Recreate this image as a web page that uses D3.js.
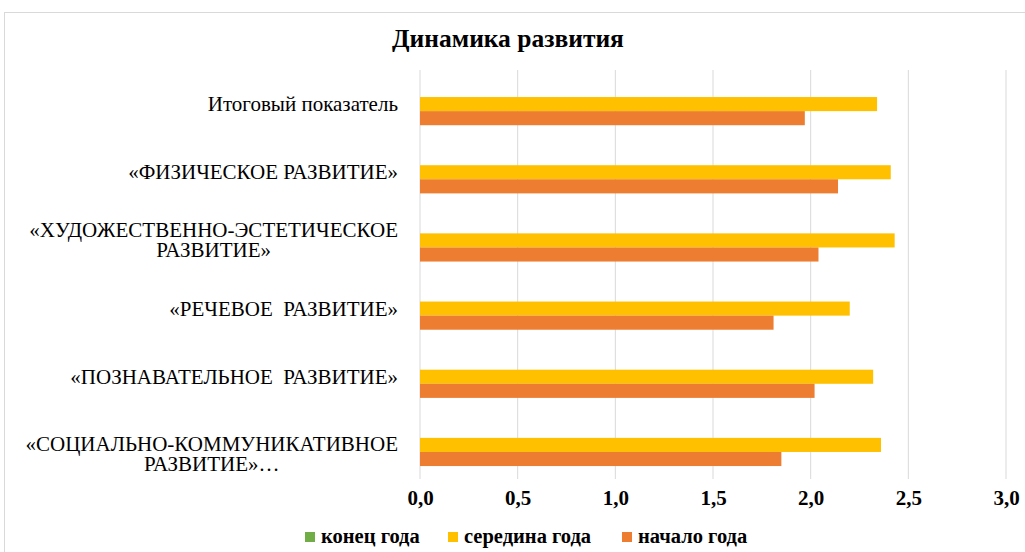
<!DOCTYPE html>
<html><head><meta charset="utf-8">
<script src="https://cdn.jsdelivr.net/npm/d3@7"></script>
<style>body{margin:0;background:#fff}svg{display:block}</style>
</head><body>
<svg id="c" width="1025" height="552"></svg>
<script>
const title = "Динамика развития";
const categories = [
  ["Итоговый показатель"],
  ["«ФИЗИЧЕСКОЕ РАЗВИТИЕ»"],
  ["«ХУДОЖЕСТВЕННО-ЭСТЕТИЧЕСКОЕ", "РАЗВИТИЕ»"],
  ["«РЕЧЕВОЕ  РАЗВИТИЕ»"],
  ["«ПОЗНАВАТЕЛЬНОЕ  РАЗВИТИЕ»"],
  ["«СОЦИАЛЬНО-КОММУНИКАТИВНОЕ", "РАЗВИТИЕ»…"]
];
const seriesNames = ["конец года", "середина года", "начало года"];
const seriesColors = ["#70AD47", "#FFC000", "#ED7D31"];
const endYear = [0, 0, 0, 0, 0, 0];
const midYear = [2.34, 2.41, 2.43, 2.20, 2.32, 2.36];
const startYear = [1.97, 2.14, 2.04, 1.81, 2.02, 1.85];
const xTicks = [0, 0.5, 1, 1.5, 2, 2.5, 3];

const seriesValues = [endYear, midYear, startYear];
const svg = d3.select("#c");
const serif = '"Liberation Serif"';

svg.append("rect").attr("x", 4.5).attr("y", 12.5).attr("width", 1040).attr("height", 560)
  .attr("fill", "#fff").attr("stroke", "#d9d9d9");

svg.append("text").attr("x", 508).attr("y", 47).attr("text-anchor", "middle")
  .style("font-family", serif).style("font-weight", "bold").style("font-size", "25.5px")
  .attr("fill", "#000").text(title);

const x = d3.scaleLinear().domain([0, 3]).range([420, 1006]);
const idx = d3.range(categories.length);
const y = d3.scaleBand().domain(idx).range([70, 479]).paddingInner(0.38).paddingOuter(0.19);
const ys = d3.scaleBand().domain(d3.range(seriesNames.length)).range([0, y.bandwidth()]);

svg.append("g").selectAll("line").data(xTicks).join("line")
  .attr("x1", d => x(d)).attr("x2", d => x(d)).attr("y1", 70).attr("y2", 479)
  .attr("stroke", "#d9d9d9").attr("stroke-width", 1);

seriesValues.forEach((vals, s) => {
  svg.append("g").selectAll("rect").data(vals).join("rect")
    .attr("x", x(0))
    .attr("y", (d, i) => y(i) + ys(s))
    .attr("width", d => x(d) - x(0))
    .attr("height", ys.bandwidth())
    .attr("fill", seriesColors[s]);
});

const xAxis = d3.axisBottom(x).tickValues(xTicks).tickSize(0)
  .tickFormat(d => d.toFixed(1).replace(".", ","));
const gx = svg.append("g").attr("transform", "translate(0,487)").call(xAxis);
gx.select(".domain").remove();
gx.attr("font-family", null).attr("font-size", null);
gx.selectAll("text").style("font-family", serif).style("font-weight", "bold")
  .style("font-size", "21px").attr("fill", "#000");

const lab = svg.append("g");
const labFont = "21px";
categories.forEach((lines, i) => {
  const cy = y(i) + y.bandwidth() / 2;
  const lh = 20;
  const truncated = lines[lines.length - 1].endsWith("…");
  const top = cy - (lines.length - 1) * lh / 2 + (truncated ? 9 : 0);
  const t = lab.append("text").style("font-family", serif).style("font-size", labFont)
    .style("white-space", "pre").attr("fill", "#000");
  if (lines.length === 1) {
    t.attr("x", 398).attr("y", top).attr("dy", "0.33em").attr("text-anchor", "end").text(lines[0]);
  } else {
    const tmp = lab.append("text").style("font-family", serif).style("font-size", labFont).text(lines[0]);
    const w = tmp.node().getComputedTextLength();
    tmp.remove();
    const cx = 398 - w / 2;
    lines.forEach((ln, k) => {
      t.append("tspan").attr("x", cx).attr("y", top + k * lh).attr("dy", "0.33em")
        .attr("text-anchor", "middle").text(ln);
    });
  }
});

const legendX = [305, 448, 622];
const lg = svg.append("g");
seriesNames.forEach((n, s) => {
  lg.append("rect").attr("x", legendX[s]).attr("y", 532).attr("width", 10).attr("height", 10)
    .attr("fill", seriesColors[s]);
  lg.append("text").attr("x", legendX[s] + 16).attr("y", 543)
    .style("font-family", serif).style("font-weight", "bold").style("font-size", "20.5px")
    .attr("fill", "#000").text(n);
});
</script>
</body></html>
